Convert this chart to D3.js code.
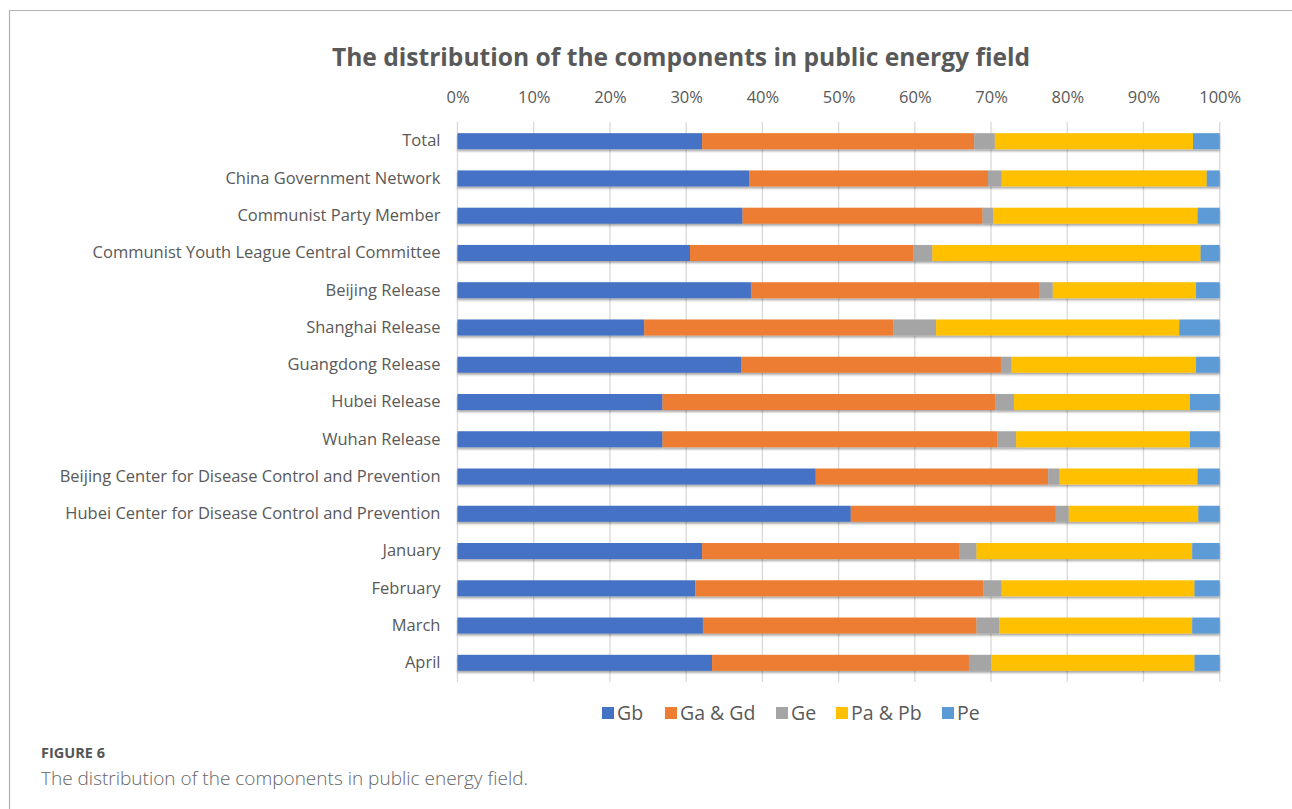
<!DOCTYPE html>
<html>
<head>
<meta charset="utf-8">
<script src="https://cdn.jsdelivr.net/npm/d3@7"></script>
<style>
  html, body { margin: 0; padding: 0; background: #fff; }
  svg { display: block; }
</style>
</head>
<body>
<div id="chart"></div>
<script>
// data (percent of each row)
const categories = [
  "Total",
  "China Government Network",
  "Communist Party Member",
  "Communist Youth League Central Committee",
  "Beijing Release",
  "Shanghai Release",
  "Guangdong Release",
  "Hubei Release",
  "Wuhan Release",
  "Beijing Center for Disease Control and Prevention",
  "Hubei Center for Disease Control and Prevention",
  "January",
  "February",
  "March",
  "April"
];
const gb   = [32.1, 38.3, 37.4, 30.5, 38.5, 24.5, 37.2, 26.9, 26.9, 47.0, 51.6, 32.1, 31.2, 32.2, 33.4];
const gaGd = [35.7, 31.3, 31.5, 29.3, 37.8, 32.7, 34.1, 43.7, 43.9, 30.5, 26.9, 33.7, 37.8, 35.9, 33.7];
const ge   = [2.7, 1.8, 1.4, 2.5, 1.8, 5.6, 1.4, 2.4, 2.5, 1.5, 1.7, 2.3, 2.4, 3.0, 2.9];
const paPb = [26.0, 26.9, 26.8, 35.2, 18.8, 31.9, 24.2, 23.1, 22.8, 18.1, 17.0, 28.3, 25.3, 25.3, 26.7];
const pe   = [3.5, 1.7, 2.9, 2.5, 3.1, 5.3, 3.1, 3.9, 3.9, 2.9, 2.8, 3.6, 3.3, 3.6, 3.3];

const seriesNames = ["Gb", "Ga & Gd", "Ge", "Pa & Pb", "Pe"];
const seriesColors = ["#4472C4", "#ED7D31", "#A5A5A5", "#FFC000", "#5B9BD5"];
const xTicks = [0, 0.1, 0.2, 0.3, 0.4, 0.5, 0.6, 0.7, 0.8, 0.9, 1];

const title = "The distribution of the components in public energy field";

// table for d3.stack
const rows = categories.map((c, i) => ({
  cat: c, "Gb": gb[i], "Ga & Gd": gaGd[i], "Ge": ge[i], "Pa & Pb": paPb[i], "Pe": pe[i]
}));

const width = 1292, height = 809;
const plotLeft = 457.5, plotRight = 1219.7;
const plotTop = 122, plotBottom = 682;
const textColor = "#595959";
const font = "'Open Sans', 'Noto Sans', sans-serif";

const svg = d3.select("#chart").append("svg")
  .attr("width", width)
  .attr("height", height)
  .attr("font-family", font);

// drop shadow like the office bars
const defs = svg.append("defs");
const shadow = defs.append("filter")
  .attr("id", "shadow")
  .attr("x", "-5%").attr("y", "-40%")
  .attr("width", "110%").attr("height", "200%");
shadow.append("feDropShadow")
  .attr("dx", 0).attr("dy", 2)
  .attr("stdDeviation", 1.3)
  .attr("flood-color", "#000")
  .attr("flood-opacity", 0.35);

// frame of the figure box
svg.append("path")
  .attr("d", `M9.5,${height} V10.5 H${width}`)
  .attr("fill", "none")
  .attr("stroke", "#b0b0b0")
  .attr("stroke-width", 1.2);

const x = d3.scaleLinear().domain([0, 1]).range([plotLeft, plotRight]);
const y = d3.scaleBand()
  .domain(categories)
  .range([plotTop, plotBottom])
  .paddingInner(0.57)
  .paddingOuter(0.3);
const color = d3.scaleOrdinal().domain(seriesNames).range(seriesColors);

// title
svg.append("text")
  .attr("x", 681)
  .attr("y", 66)
  .attr("text-anchor", "middle")
  .attr("fill", textColor)
  .attr("font-size", 24.6)
  .attr("font-weight", 700)
  .text(title);

// gridlines
svg.append("g")
  .selectAll("line")
  .data(xTicks)
  .join("line")
  .attr("x1", d => x(d)).attr("x2", d => x(d))
  .attr("y1", plotTop).attr("y2", plotBottom)
  .attr("stroke", "#d9d9d9")
  .attr("stroke-width", 1.3);

// top axis labels
const xAxis = svg.append("g")
  .attr("transform", `translate(0,${plotTop - 16})`)
  .call(d3.axisTop(x).tickValues(xTicks).tickFormat(d3.format(".0%")).tickSize(0));
xAxis.select(".domain").remove();
xAxis.selectAll("text")
  .attr("fill", textColor)
  .attr("font-size", 16.5)
  .attr("font-family", font);

// category labels
const yAxis = svg.append("g")
  .attr("transform", `translate(${plotLeft - 7},0)`)
  .call(d3.axisLeft(y).tickSize(0).tickPadding(10));
yAxis.select(".domain").remove();
yAxis.selectAll("text")
  .attr("fill", textColor)
  .attr("font-size", 16.5)
  .attr("font-family", font);

// stacked bars
const stacked = d3.stack()
  .keys(seriesNames)
  .offset(d3.stackOffsetExpand)(rows);

svg.append("g")
  .attr("filter", "url(#shadow)")
  .selectAll("g")
  .data(stacked)
  .join("g")
  .attr("fill", d => color(d.key))
  .selectAll("rect")
  .data(d => d)
  .join("rect")
  .attr("x", d => x(d[0]))
  .attr("y", d => y(d.data.cat))
  .attr("width", d => x(d[1]) - x(d[0]))
  .attr("height", y.bandwidth());

// legend
const legendX = [602, 665, 776, 836, 942];
const legend = svg.append("g")
  .selectAll("g")
  .data(seriesNames)
  .join("g")
  .attr("transform", (d, i) => `translate(${legendX[i]},713)`);
legend.append("rect")
  .attr("x", 0).attr("y", -6)
  .attr("width", 12).attr("height", 12)
  .attr("fill", d => color(d));
legend.append("text")
  .attr("x", 15)
  .attr("dy", "0.35em")
  .attr("fill", textColor)
  .attr("font-size", 19.5)
  .text(d => d);

// caption
svg.append("text")
  .attr("x", 41).attr("y", 758)
  .attr("fill", "#555")
  .attr("font-size", 14.5)
  .attr("font-weight", 700)
  .text("FIGURE 6");
svg.append("text")
  .attr("x", 41).attr("y", 785)
  .attr("fill", "#666")
  .attr("font-size", 19)
  .attr("font-weight", 300)
  .text("The distribution of the components in public energy field.");
</script>
</body>
</html>
